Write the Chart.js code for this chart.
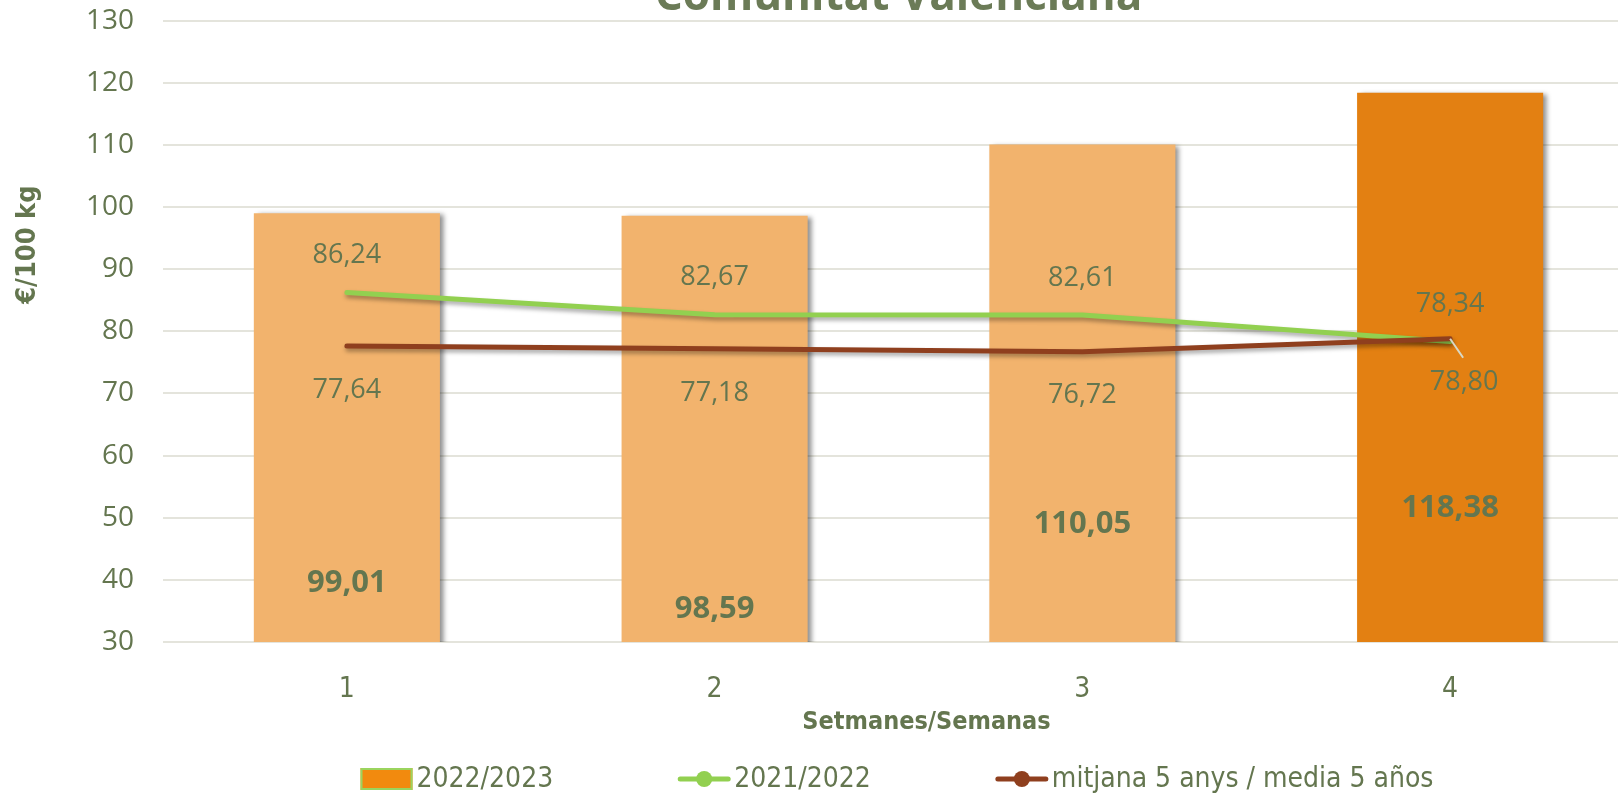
<!DOCTYPE html>
<html>
<head>
<meta charset="utf-8">
<script src="https://cdn.jsdelivr.net/npm/chart.js@4.4.0/dist/chart.umd.min.js"></script>
<style>
  html, body { margin: 0; padding: 0; width: 1618px; height: 795px; overflow: hidden; background: #fff; }
  #wrap { position: absolute; left: 0; top: -50px; width: 1794px; height: 845px; }
</style>
</head>
<body>
<div id="wrap"><canvas id="chart"></canvas></div>
<script>
// data
const weeks = ['1', '2', '3', '4'];
const season2223 = [99.01, 98.59, 110.05, 118.38];
const season2122 = [86.24, 82.67, 82.61, 78.34];
const avg5years = [77.64, 77.18, 76.72, 78.80];
const barColors = ['#F2B36D', '#F2B36D', '#F2B36D', '#E38012'];

const TEXT = '#64764F';
const NARROW = '"Liberation Sans Narrow", "DejaVu Sans Condensed", sans-serif';
const fmt = v => v.toFixed(2).replace('.', ',');

// labels, shadows, axis titles and legend drawn by hand (Excel-like look)
const extras = {
  id: 'extras',
  beforeDatasetDraw(chart, args) {
    const ctx = chart.ctx;
    ctx.save();
    if (args.meta.type === 'bar') {
      ctx.shadowColor = 'rgba(0,0,0,0.45)';
      ctx.shadowBlur = 5;
      ctx.shadowOffsetX = 4;
      ctx.shadowOffsetY = 1;
    } else {
      ctx.shadowColor = 'rgba(0,0,0,0.35)';
      ctx.shadowBlur = 4;
      ctx.shadowOffsetX = 1;
      ctx.shadowOffsetY = 3;
    }
  },
  afterDatasetDraw(chart) {
    chart.ctx.restore();
  },
  afterDatasetsDraw(chart, args, opts) {
    const { ctx } = chart;
    const y = chart.scales.y;
    ctx.save();
    ctx.fillStyle = TEXT;
    ctx.textAlign = 'center';
    ctx.textBaseline = 'middle';

    ctx.font = 'bold 31px "Open Sans"';
    chart.getDatasetMeta(0).data.forEach((bar, i) => {
      ctx.fillText(fmt(season2223[i]), bar.x, y.getPixelForValue(opts.barLabelAt[i]));
    });

    ctx.font = '27px "Open Sans"';
    chart.getDatasetMeta(1).data.forEach((pt, i) => {
      ctx.fillText(fmt(season2122[i]), pt.x, pt.y - opts.aboveGap);
    });

    chart.getDatasetMeta(2).data.forEach((pt, i) => {
      const dx = opts.avgNudgeX[i];
      const ly = pt.y + opts.belowGap;
      if (dx) {
        ctx.strokeStyle = '#D8D8C6';
        ctx.lineWidth = 2;
        ctx.beginPath();
        ctx.moveTo(pt.x, pt.y);
        ctx.lineTo(pt.x + dx - 1, ly - 25);
        ctx.stroke();
      }
      ctx.fillText(fmt(avg5years[i]), pt.x + dx, ly);
    });
    ctx.restore();
  },
  afterDraw(chart, args, opts) {
    const { ctx, chartArea } = chart;
    ctx.save();
    ctx.fillStyle = TEXT;
    ctx.textAlign = 'center';
    ctx.textBaseline = 'middle';

    // axis titles
    ctx.font = 'bold 25px ' + NARROW;
    ctx.fillText('Setmanes/Semanas', (chartArea.left + chartArea.right) / 2 + 28, chartArea.bottom + 80);
    ctx.save();
    ctx.translate(28, chartArea.top + 224);
    ctx.rotate(-Math.PI / 2);
    ctx.font = 'bold 27px ' + NARROW;
    ctx.fillText('€/100 kg', 0, 0);
    ctx.restore();

    // legend
    ctx.font = '28px ' + NARROW;
    ctx.textAlign = 'left';
    const items = [
      { text: '2022/2023', kind: 'box' },
      { text: '2021/2022', kind: 'line', color: '#92D050' },
      { text: 'mitjana 5 anys / media 5 años', kind: 'line', color: '#8F3F1E' }
    ];
    const sym = 52, gap = 4, itemGap = 125;
    let total = 0;
    items.forEach((it, i) => {
      it.w = sym + gap + ctx.measureText(it.text).width;
      total += it.w + (i ? itemGap : 0);
    });
    let x = chart.width / 2 - total / 2;
    const ly = chartArea.bottom + 137;
    items.forEach(it => {
      if (it.kind === 'box') {
        ctx.fillStyle = '#F28A0E';
        ctx.fillRect(x, ly - 11, sym, 22);
        ctx.strokeStyle = '#9BD45E';
        ctx.lineWidth = 2;
        ctx.strokeRect(x + 1, ly - 10, sym - 2, 20);
      } else {
        ctx.strokeStyle = it.color;
        ctx.fillStyle = it.color;
        ctx.lineWidth = 5;
        ctx.lineCap = 'round';
        ctx.beginPath();
        ctx.moveTo(x + 2, ly);
        ctx.lineTo(x + sym - 2, ly);
        ctx.stroke();
        ctx.beginPath();
        ctx.arc(x + sym / 2, ly, 8, 0, Math.PI * 2);
        ctx.fill();
      }
      ctx.fillStyle = TEXT;
      ctx.fillText(it.text, x + sym + gap, ly + 1);
      x += it.w + itemGap;
    });
    ctx.restore();
  }
};

new Chart(document.getElementById('chart'), {
  data: {
    labels: weeks,
    datasets: [
      {
        type: 'bar',
        label: '2022/2023',
        data: season2223,
        backgroundColor: barColors,
        barPercentage: 0.506,
        categoryPercentage: 1,
        order: 2
      },
      {
        type: 'line',
        label: '2021/2022',
        data: season2122,
        borderColor: '#92D050',
        borderWidth: 5,
        pointRadius: 0,
        tension: 0,
        borderCapStyle: 'round',
        order: 1
      },
      {
        type: 'line',
        label: 'mitjana 5 anys / media 5 años',
        data: avg5years,
        borderColor: '#8F3F1E',
        borderWidth: 5,
        pointRadius: 0,
        tension: 0,
        borderCapStyle: 'round',
        order: 0
      }
    ]
  },
  options: {
    responsive: true,
    maintainAspectRatio: false,
    animation: false,
    layout: { padding: { left: 0, right: 160, top: 0, bottom: 60 } },
    scales: {
      x: {
        grid: { display: false },
        border: { display: false },
        ticks: {
          color: TEXT,
          padding: 23,
          font: { family: NARROW, size: 28 }
        },
        afterFit(scale) { scale.height = 93; }
      },
      y: {
        min: 30,
        max: 130,
        grid: { color: '#E4E4DC', lineWidth: 2, drawTicks: false },
        border: { display: false },
        ticks: {
          stepSize: 10,
          color: TEXT,
          padding: 29,
          font: { family: '"Open Sans"', size: 28 }
        },
        afterFit(scale) { scale.width = 163; }
      }
    },
    plugins: {
      legend: { display: false },
      tooltip: { enabled: false },
      title: {
        display: true,
        fullSize: false,
        text: 'Comunitat Valenciana',
        color: '#6B7B57',
        font: { family: '"Open Sans"', size: 44, weight: 'bold', lineHeight: 1 },
        padding: { top: 25, bottom: 1.6 }
      },
      extras: {
        barLabelAt: [39.5, 35.3, 49.0, 51.6],
        aboveGap: 37,
        belowGap: 44,
        avgNudgeX: [0, 0, 0, 14]
      }
    }
  },
  plugins: [extras]
});
</script>
</body>
</html>
